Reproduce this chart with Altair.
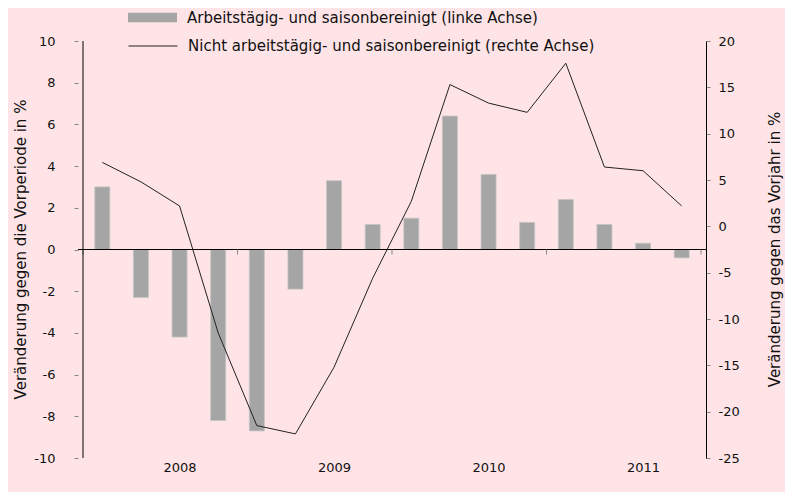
import altair as alt
import pandas as pd

quarters = [f"{y} Q{q}" for y in [2008, 2009, 2010, 2011] for q in range(1, 5)]
bar_values = [3.0, -2.3, -4.2, -8.2, -8.7, -1.9, 3.3, 1.2, 1.5, 6.4, 3.6, 1.3, 2.4, 1.2, 0.3, -0.4]
line_values = [6.9, 4.8, 2.2, -11.5, -21.5, -22.4, -15.2, -5.6, 2.7, 15.3, 13.3, 12.3, 17.6, 6.4, 6.0, 2.2]
year_labels = ["2008", "2009", "2010", "2011"]
year_boundaries = [0, 4, 8, 12, 16]

bar_name = "Arbeitstägig- und saisonbereinigt (linke Achse)"
line_name = "Nicht arbeitstägig- und saisonbereinigt (rechte Achse)"

FONT = "DejaVu Sans"
BG = "#fee4e6"

df = pd.DataFrame({
    "quarter": quarters,
    "pos": [i + 0.5 for i in range(len(quarters))],
    "bar": bar_values,
    "line": line_values,
    "s1": bar_name,
    "s2": line_name,
})
bounds = pd.DataFrame({"b": year_boundaries})
edge = pd.DataFrame({"e": [0]})

label_pos = [4 * i + 2.5 for i in range(len(year_labels))]
label_expr = "{" + ",".join(f"'{p}':'{t}'" for p, t in zip(label_pos, year_labels)) + "}[toString(datum.value)]"
minus_expr = "replace(datum.label, '\u2212', '-')"

x_scale = alt.Scale(domain=[0, 16], nice=False, zero=False)
x_axis = alt.Axis(values=label_pos, labelExpr=label_expr, domain=False, ticks=False, grid=False,
                  labelPadding=3, labelFontSize=13, labelFont=FONT, labelColor="#111", title=None)

yl_scale = alt.Scale(domain=[-10, 10], nice=False)
yr_scale = alt.Scale(domain=[-25, 20], nice=False)

yl_axis = alt.Axis(values=list(range(-10, 11, 2)), title="Veränderung gegen die Vorperiode in %",
                   domain=False, zindex=1,
                   titleX=-58, titleY=208, titleAngle=270, titleAlign="center", titleBaseline="middle",
                   labelExpr=minus_expr, labelPadding=19)
yr_axis = alt.Axis(orient="right", values=list(range(-25, 21, 5)),
                   domain=True, domainColor="#000", domainWidth=1, zindex=1,
                   title="Veränderung gegen das Vorjahr in %",
                   titleX=68, titleY=208, titleAngle=270, titleAlign="center", titleBaseline="middle",
                   labelExpr=minus_expr, labelPadding=8)

legend_common = dict(orient="none", title=None, labelOffset=10, labelLimit=0,
                     labelFontSize=15, labelFont=FONT, labelColor="#111")

bars = alt.Chart(df).mark_bar(size=15, stroke="#c4c4c4", strokeWidth=0.8).encode(
    x=alt.X("pos:Q", scale=x_scale, axis=x_axis),
    y=alt.Y("bar:Q", scale=yl_scale, axis=yl_axis),
    fill=alt.Fill("s1:N", scale=alt.Scale(domain=[bar_name], range=["#a5a5a5"]),
                  legend=alt.Legend(legendX=50, legendY=-48,
                                    symbolType="M-1,-0.19H1V0.19H-1Z", symbolSize=2401,
                                    symbolStrokeWidth=0, **legend_common)),
)

zero = alt.Chart(edge).mark_rule(color="#000", strokeWidth=1).encode(
    y=alt.datum(0, scale=yl_scale, axis=yl_axis),
)

ticks = alt.Chart(bounds).mark_rule(color="#888", strokeWidth=1).encode(
    x=alt.X("b:Q", scale=x_scale, axis=x_axis),
    y=alt.datum(0, axis=yl_axis),
    y2=alt.datum(-0.24),
)

left_edge = alt.Chart(edge).mark_rule(color="#000", strokeWidth=1).encode(
    x=alt.X("e:Q", scale=x_scale, axis=x_axis),
    y=alt.datum(-10, axis=yl_axis),
    y2=alt.datum(10),
)

line = alt.Chart(df).mark_line(strokeWidth=1).encode(
    x=alt.X("pos:Q", scale=x_scale, axis=x_axis),
    y=alt.Y("line:Q", scale=yr_scale, axis=yr_axis),
    stroke=alt.Stroke("s2:N", scale=alt.Scale(domain=[line_name], range=["#222222"]),
                      legend=alt.Legend(legendX=50, legendY=-20,
                                        symbolType="stroke", symbolSize=2401,
                                        symbolStrokeWidth=1, **legend_common)),
)

chart = alt.layer(alt.layer(bars, zero, ticks, left_edge), line).resolve_scale(
    y="independent", fill="independent", stroke="independent"
).properties(
    width=628, height=417,
    autosize=alt.AutoSizeParams(type="none"),
    padding={"left": 70, "top": 33, "right": 79, "bottom": 34},
    background=BG,
).configure_view(
    fill=BG, stroke=None
).configure_axis(
    domainColor="#000", domainWidth=1, tickColor="#888", tickSize=4, grid=False,
    labelFont=FONT, labelFontSize=13, labelColor="#111", titleFont=FONT, titleFontSize=15,
    titleFontWeight="normal", titleColor="#111"
).configure_legend(padding=0)

chart.save("out.html", embed_options={"renderer": "svg", "actions": False})
